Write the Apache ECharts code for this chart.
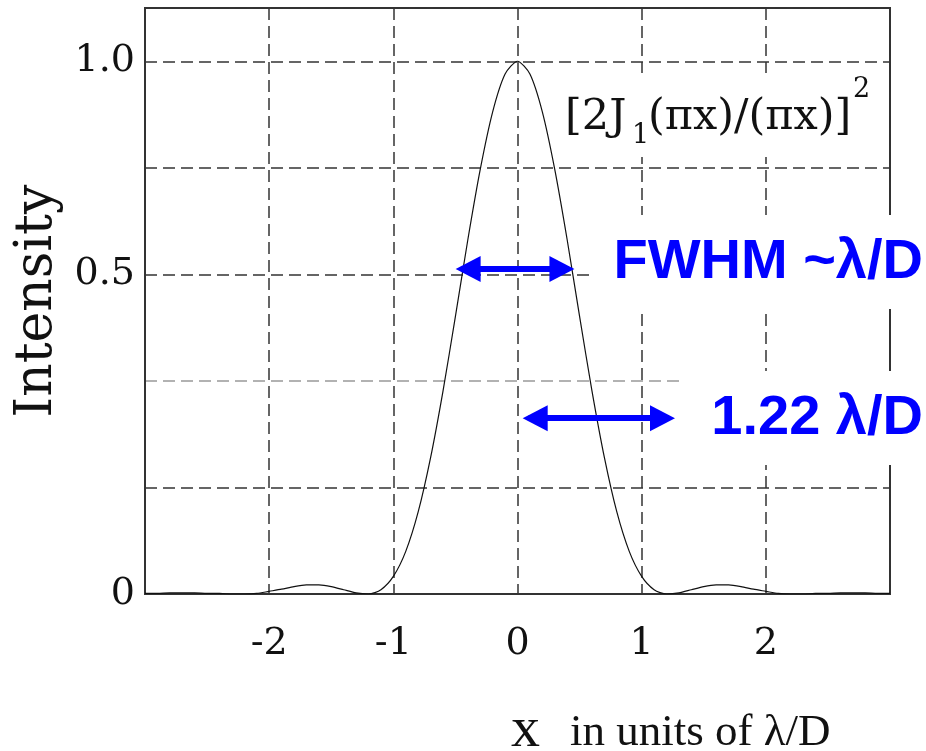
<!DOCTYPE html>
<html>
<head>
<meta charset="utf-8">
<title>Airy pattern</title>
<script src="https://cdn.jsdelivr.net/npm/echarts@6/dist/echarts.min.js"></script>
<style>
  html, body { margin: 0; padding: 0; background: #fff; }
  #chart { width: 926px; height: 751px; }
</style>
</head>
<body>
<div id="chart"></div>
<script>
// x in units of lambda/D
const xValues = [
  -3.0, -2.9, -2.8, -2.7, -2.6, -2.5, -2.4, -2.3, -2.2, -2.1,
  -2.0, -1.9, -1.8, -1.7, -1.6, -1.5, -1.4, -1.3, -1.2, -1.1,
  -1.0, -0.9, -0.8, -0.7, -0.6, -0.5, -0.4, -0.3, -0.2, -0.1,
  0.0,
  0.1, 0.2, 0.3, 0.4, 0.5, 0.6, 0.7, 0.8, 0.9, 1.0,
  1.1, 1.2, 1.3, 1.4, 1.5, 1.6, 1.7, 1.8, 1.9, 2.0,
  2.1, 2.2, 2.3, 2.4, 2.5, 2.6, 2.7, 2.8, 2.9, 3.0
];
// [2J1(pi x)/(pi x)]^2
const intensity = [
  0.001, 0.001, 0.002, 0.002, 0.002, 0.001, 0.001, 0.000, 0.000, 0.001,
  0.005, 0.009, 0.014, 0.017, 0.017, 0.014, 0.008, 0.002, 0.000, 0.008,
  0.033, 0.080, 0.154, 0.256, 0.381, 0.521, 0.665, 0.797, 0.905, 0.976,
  1.000,
  0.976, 0.905, 0.797, 0.665, 0.521, 0.381, 0.256, 0.154, 0.080, 0.033,
  0.008, 0.000, 0.002, 0.008, 0.014, 0.017, 0.017, 0.014, 0.009, 0.005,
  0.001, 0.000, 0.000, 0.001, 0.001, 0.002, 0.002, 0.002, 0.001, 0.001
];

const xTickValues = [-2, -1, 0, 1, 2];
const xTickLabels = ["-2", "-1", "0", "1", "2"];
const yTickValues = [0, 0.6, 1.0];
const yTickLabels = ["0", "0.5", "1.0"];

// arrow end points (x, intensity)
const fwhmArrow = [[-0.45, 0.61], [0.41, 0.61]];
const zeroArrow = [[0.09, 0.33], [1.22, 0.33]];

const chart = echarts.init(document.getElementById("chart"), null, { renderer: "canvas" });

const serif = '"DejaVu Serif", serif';
const timesLike = '"Liberation Serif", "Times New Roman", serif';
const blue = "#0000ff";
const gridDark = "#333";

function pickLabel(values, labels, v) {
  for (let i = 0; i < values.length; i++) {
    if (Math.abs(values[i] - v) < 1e-6) return labels[i];
  }
  return "";
}

const option = {
  animation: false,
  backgroundColor: "#fff",
  grid: {
    left: 145,
    right: 36,
    top: 8,
    bottom: 157,
    show: true,
    borderColor: gridDark,
    borderWidth: 2,
    backgroundColor: "transparent",
  },
  xAxis: {
    type: "value",
    min: -3,
    max: 3,
    interval: 1,
    axisLine: { onZero: false, lineStyle: { color: gridDark, width: 2 } },
    axisTick: { show: false },
    axisLabel: {
      margin: 31,
      color: "#111",
      fontFamily: serif,
      fontSize: 38,
      formatter: (v) => pickLabel(xTickValues, xTickLabels, v),
    },
    splitLine: {
      show: true,
      lineStyle: { color: gridDark, width: 1.5, type: [12, 6] },
    },
  },
  yAxis: {
    type: "value",
    min: 0,
    max: 1.1,
    interval: 0.2,
    name: "Intensity",
    nameLocation: "middle",
    nameRotate: 90,
    nameGap: 82,
    nameTextStyle: { fontFamily: serif, fontSize: 52, color: "#111" },
    axisLine: { show: true, onZero: false, lineStyle: { color: gridDark, width: 2 } },
    axisTick: { show: false },
    axisLabel: {
      margin: 10,
      color: "#111",
      fontFamily: serif,
      fontSize: 38,
      formatter: (v) => pickLabel(yTickValues, yTickLabels, v),
    },
    splitLine: {
      show: true,
      lineStyle: {
        color: [gridDark, gridDark, "#999", gridDark, gridDark, gridDark, gridDark],
        width: 1.5,
        type: [12, 6],
      },
    },
  },
  series: [
    {
      type: "line",
      data: xValues.map((x, i) => [x, intensity[i]]),
      showSymbol: false,
      smooth: 0.25,
      lineStyle: { color: "#111", width: 1.2 },
      z: 3,
      markLine: {
        silent: true,
        symbol: ["triangle", "triangle"],
        symbolSize: [26, 25],
        symbolOffset: [[0, 6.5], [0, 6.5]],
        label: { show: false },
        lineStyle: { color: blue, width: 6, type: "solid" },
        data: [
          [{ coord: fwhmArrow[0] }, { coord: fwhmArrow[1] }],
          [{ coord: zeroArrow[0] }, { coord: zeroArrow[1] }],
        ],
      },
    },
  ],
  graphic: [
    // formula box
    { type: "rect", z: 100, shape: { x: 560, y: 73, width: 322, height: 84 }, style: { fill: "#fff" } },
    { type: "text", z: 101, style: { text: "[2J", x: 565, y: 118, verticalAlign: "middle", font: "43px " + serif, fill: "#111" } },
    { type: "text", z: 101, style: { text: "1", x: 632, y: 136, verticalAlign: "middle", font: "27px " + serif, fill: "#111" } },
    { type: "text", z: 101, style: { text: "(πx)/(πx)]", x: 648, y: 118, verticalAlign: "middle", font: "43px " + serif, fill: "#111" } },
    { type: "text", z: 101, style: { text: "2", x: 853, y: 90, verticalAlign: "middle", font: "27px " + serif, fill: "#111" } },
    // FWHM label
    { type: "rect", z: 100, shape: { x: 590, y: 215, width: 336, height: 94 }, style: { fill: "#fff" } },
    { type: "text", z: 101, style: { text: "FWHM ~λ/D", x: 923, y: 263, align: "right", verticalAlign: "middle", font: 'bold 56px "Liberation Sans", Arial, sans-serif', fill: blue } },
    // 1.22 label
    { type: "rect", z: 100, shape: { x: 683, y: 371, width: 243, height: 94 }, style: { fill: "#fff" } },
    { type: "text", z: 101, style: { text: "1.22 λ/D", x: 923, y: 419, align: "right", verticalAlign: "middle", font: 'bold 56px "Liberation Sans", Arial, sans-serif', fill: blue } },
    // x axis title
    { type: "text", z: 101, style: { text: "x", x: 511, y: 760, verticalAlign: "bottom", font: "58px " + timesLike, fill: "#111" } },
    { type: "text", z: 101, style: { text: "in units of λ/D", x: 570, y: 756, verticalAlign: "bottom", font: "45px " + timesLike, fill: "#111" } },
  ],
};

chart.setOption(option);
window.addEventListener("resize", () => chart.resize());
</script>
</body>
</html>
